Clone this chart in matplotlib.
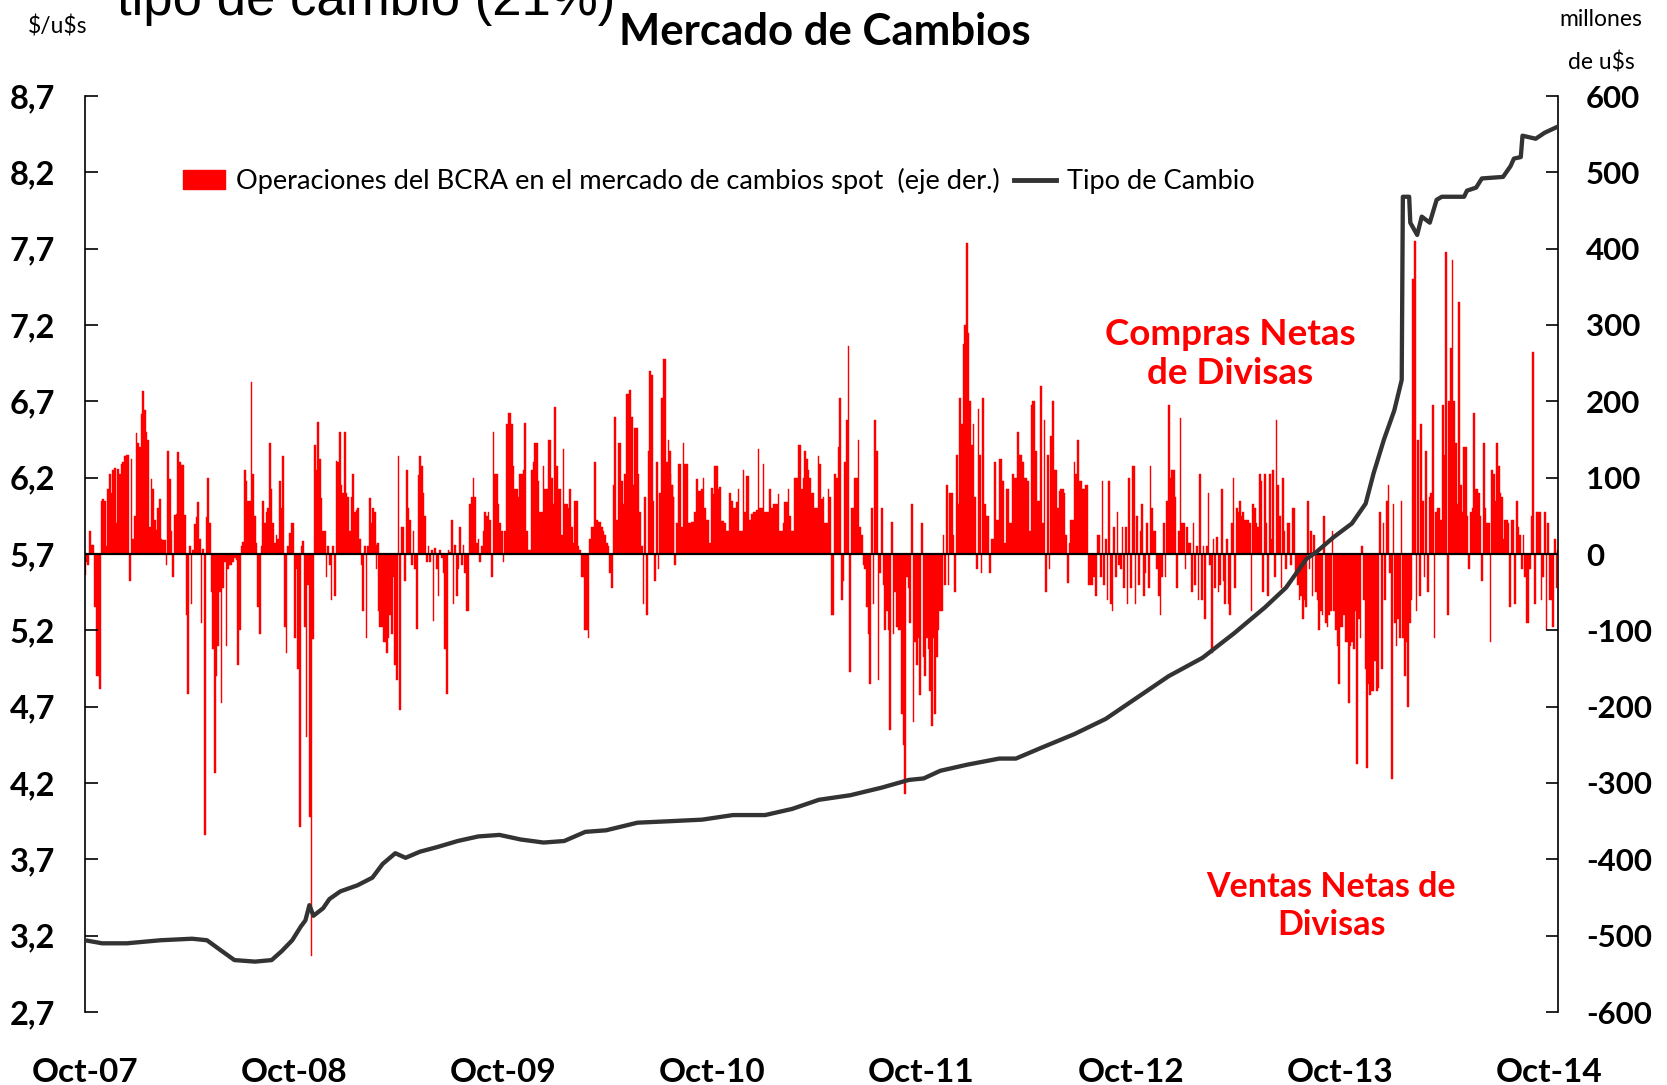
import matplotlib
matplotlib.use("Agg")
import matplotlib.pyplot as plt
from matplotlib.patches import Patch
from matplotlib.lines import Line2D
import pandas as pd
import numpy as np

# ---------------- DATA ----------------
# BCRA spot-market operations (millones de u$s) in five consecutive periods
ops_2007_09_to_2009_02 = [
    -5, -30, -30, -28, -10, -15, 30, 12, 12, -70,
    -160, -160, -177, 70, 72, 70, 10, 85, 105, 80,
    110, 113, 40, 112, 105, 118, 120, 128, 130, 130,
    -35, 124, 20, 50, 159, 145, 140, 183, 213, 188,
    160, 149, 35, 98, 85, 44, 32, 60, 72, 20,
    18, 18, -15, 135, 98, 30, -30, 51, 52, 133,
    120, 116, 116, 51, -80, -183, 10, -65, 5, 39,
    48, 68, 20, -90, 7, -368, 48, 100, 40, -50,
    -125, -287, -160, -120, -50, -195, -45, -10, -120, -20,
    -15, -15, -10, -5, -8, -145, -100, 10, 16, 110,
    95, 70, 70, 225, 105, 50, 15, -70, -105, 10,
    70, 40, 55, 60, 145, 85, 40, 15, 25, 20,
    95, 60, 128, -95, -130, 10, 28, 40, 40, -110,
    -20, -150, -357, 10, 17, -95, -240, -40, -345, -527,
    -112, 143, 110, 173, 125, 73, 30, 30, -30, 10,
    -15, -60, 10, -55, 122, 120, 160, 90, 80, 160,
    80, 75, 30, 75, 105, 55, 58, 60, 20, -15,
    -75, 10, -110, 10, 73, 40, 60, 15, -20, 15,
]
ops_2009_02_to_2010_07 = [
    55, 12, -75, -95, -95, -115, -115, -130, -110, -80,
    -105, -30, -145, -165, 128, -205, 35, 35, -35, 110,
    60, 45, -15, 30, -20, -98, 103, 128, 115, 80,
    50, -10, 10, -10, 5, -88, 8, -20, -55, 5,
    -5, -25, -125, -183, 5, 3, 44, -65, 12, -55,
    -20, 35, -15, 12, -25, -75, -75, 65, 75, 100,
    75, 15, 20, -10, 10, 30, 55, 50, 55, 45,
    -30, 160, 105, 105, 65, 40, 30, -10, 30, 170,
    185, 185, 170, 115, 85, 85, 75, 105, 105, 110,
    172, 30, 5, 5, 110, 120, 145, 145, 95, 55,
    55, 115, 85, 85, 150, 150, 100, 65, 192, 115,
    85, 85, 25, 137, 65, 65, 60, 85, 35, 15,
    70, 70, 10, 5, -30, -30, -100, -100, -110, 20,
    35, 35, 120, 45, 42, 42, 35, 30, 25, 15,
    10, -25, -45, 90, 180, 45, 145, 145, 95, 65,
    105, 210, 210, 215, 180, 90, 165, 165, 105, 55,
    10, -65, 75, -80, 135, 240, 235, 70, -35, 120,
    -20, 80, 205, 255, 255, 120, 150, 105, 90, 75,
]
ops_2010_07_to_2011_12 = [
    135, 90, 75, -15, 40, 118, 118, 35, 145, 118,
    118, 40, 40, 42, 42, 55, 98, 83, 83, 85,
    100, 60, 45, 45, 15, 87, 78, 115, 115, 85,
    88, 43, 43, 40, 30, 30, 80, 70, 60, 60,
    68, 85, 30, 30, 110, 55, 102, 102, 45, 52,
    55, 55, 58, 137, 60, 60, 118, 55, 55, 55,
    85, 60, 65, 65, 65, 78, 30, 30, 40, 68,
    68, 85, 50, 30, 30, 100, 100, 143, 143, 85,
    100, 135, 125, 110, 100, 80, 80, 60, 60, 128,
    118, 72, 75, 40, 40, 85, 75, -80, -80, 105,
    100, 140, 205, -60, -35, 120, 175, 272, -155, 60,
    60, 100, 100, 150, 35, 25, -15, -20, -70, -105,
    -170, 60, -65, 175, 135, -165, -25, 60, -40, -100,
    -75, -100, -230, 42, -105, -50, -95, -100, -100, -210,
    -250, -315, -30, -45, -90, 65, -220, -115, -145, -110,
    -185, 40, -135, -160, -110, -125, -180, -225, -110, -210,
    -135, -100, -75, -75, 25, -40, 90, -40, 80, 80,
    25, -50, 130, 65, 205, 170, 275, 300, 408, 290,
]
ops_2011_12_to_2013_05 = [
    200, 143, 170, 75, -20, 190, 130, -25, 205, 65,
    50, 50, -25, 20, 20, 120, 45, 45, 125, 125,
    95, 15, 85, 85, 40, 40, 105, 100, 100, 160,
    130, 130, 120, 100, 100, 95, 30, 195, 200, 200,
    135, 70, 70, 220, 40, 175, -50, 130, -20, 155,
    200, 110, 110, 60, 82, 85, 85, 80, 25, -38,
    15, 45, 45, 120, 105, 150, 95, 95, 85, 85,
    90, 90, -40, -40, -40, -30, -55, 25, 25, -30,
    95, -40, 20, -60, 95, -65, -75, 35, -30, 55,
    -15, -20, 35, -45, 35, -65, 100, -45, 115, 115,
    -65, 50, -40, 30, 65, -55, -25, 40, -45, 115,
    60, 30, 30, -20, -55, -80, -30, 40, -30, 70,
    195, 100, 110, 110, 75, -45, 30, 178, 40, 40,
    -20, 35, 15, 15, -50, 40, -40, 10, -60, 105,
    -60, 10, -85, 10, 80, -15, -130, 20, -45, 22,
    -50, -40, 85, -35, -65, 20, -65, -80, 40, 100,
    -45, 60, 55, 70, 50, 55, 45, 45, 45, 40,
    -75, 65, 60, 40, 35, 105, 95, -50,
]
ops_2013_05_to_2014_10 = [
    105, 40, -55, 105, 20, 110, -30, 175, 90, 50,
    -45, 100, 30, -20, 40, 40, -15, 60, 60, -25,
    -40, -60, -55, -85, -60, -70, 70, -20, 30, -55,
    25, -50, -60, -100, -75, -80, 50, -90, -95, -80,
    -75, 30, -75, -100, -120, -170, -95, -95, -80, -115,
    -115, -195, -120, -115, -125, -75, -275, -85, -110, 10,
    -60, -150, -280, -170, -185, -180, -180, -140, -180, -175,
    55, -150, 40, -60, 70, 90, -25, -295, 65, -90,
    -120, -85, -110, 70, -110, -160, -115, -200, -90, -60,
    360, 410, -75, 150, -55, 170, 70, -30, 135, -50,
    75, 80, 195, -110, 55, 60, 60, 45, 195, 130,
    395, -80, 200, 270, 385, 200, 145, 65, 330, 90,
    55, 140, 140, 50, -20, 55, 60, 185, 85, 85,
    80, 50, -35, 145, 60, 40, 40, -115, 110, 105,
    70, 145, 115, 80, 75, 20, 45, 45, 40, -70,
    45, 45, -65, 70, 35, 25, -20, 25, -30, -90,
    -90, -20, 50, 265, -65, 55, 55, 55, -60, -30,
    55, -100, 40, -60, -60, -95, 20, -45, 5,
]
ops_periods = [
    ("2007-09-22", "2009-02-24", ops_2007_09_to_2009_02),
    ("2009-02-19", "2010-07-25", ops_2009_02_to_2010_07),
    ("2010-07-19", "2011-12-22", ops_2010_07_to_2011_12),
    ("2011-12-25", "2013-05-20", ops_2011_12_to_2013_05),
    ("2013-05-23", "2014-10-17", ops_2013_05_to_2014_10),
]

# Exchange rate ($/u$s)
fx_dates = [
    "2007-10-01", "2007-10-31", "2007-12-13", "2008-02-10", "2008-04-05", "2008-05-01",
    "2008-05-23", "2008-06-18", "2008-07-24", "2008-08-22", "2008-09-09", "2008-09-27",
    "2008-10-12", "2008-10-20", "2008-10-27", "2008-11-03", "2008-11-20", "2008-12-01",
    "2008-12-20", "2009-01-19", "2009-02-14", "2009-03-04", "2009-03-26", "2009-04-13",
    "2009-05-08", "2009-06-07", "2009-07-13", "2009-08-18", "2009-09-24", "2009-10-31",
    "2009-12-10", "2010-01-15", "2010-02-21", "2010-03-29", "2010-05-23", "2010-07-20",
    "2010-09-13", "2010-11-06", "2011-01-01", "2011-02-17", "2011-04-05", "2011-05-30",
    "2011-07-24", "2011-09-09", "2011-10-05", "2011-11-03", "2011-12-20", "2012-02-14",
    "2012-03-14", "2012-04-27", "2012-06-24", "2012-08-18", "2012-10-12", "2012-12-06",
    "2013-02-03", "2013-03-30", "2013-05-23", "2013-06-29", "2013-08-04", "2013-08-20",
    "2013-09-20", "2013-10-22", "2013-11-15", "2013-11-29", "2013-12-17", "2014-01-04",
    "2014-01-17", "2014-01-19", "2014-01-30", "2014-02-01", "2014-02-13", "2014-02-21",
    "2014-03-07", "2014-03-19", "2014-03-28", "2014-05-06", "2014-05-11", "2014-05-27",
    "2014-06-06", "2014-07-13", "2014-07-26", "2014-08-01", "2014-08-13", "2014-08-16",
    "2014-09-08", "2014-09-24", "2014-10-17",
]
fx_values = [
    3.17, 3.15, 3.15, 3.17, 3.18, 3.17,
    3.11, 3.04, 3.03, 3.04, 3.10, 3.17,
    3.26, 3.30, 3.40, 3.33, 3.38, 3.44,
    3.49, 3.53, 3.58, 3.67, 3.74, 3.71,
    3.75, 3.78, 3.82, 3.85, 3.86, 3.83,
    3.81, 3.82, 3.88, 3.89, 3.94, 3.95,
    3.96, 3.99, 3.99, 4.03, 4.09, 4.12,
    4.17, 4.22, 4.23, 4.28, 4.32, 4.36,
    4.36, 4.43, 4.52, 4.62, 4.76, 4.90,
    5.02, 5.18, 5.35, 5.48, 5.67, 5.71,
    5.81, 5.90, 6.03, 6.23, 6.45, 6.64,
    6.84, 8.04, 8.04, 7.87, 7.79, 7.91,
    7.87, 8.02, 8.04, 8.04, 8.08, 8.10,
    8.16, 8.17, 8.24, 8.29, 8.30, 8.44,
    8.42, 8.46, 8.50,
]

left_ticks = [2.7, 3.2, 3.7, 4.2, 4.7, 5.2, 5.7, 6.2, 6.7, 7.2, 7.7, 8.2, 8.7]
right_ticks = [-600, -500, -400, -300, -200, -100, 0, 100, 200, 300, 400, 500, 600]
x_tick_dates = ["2007-10-01", "2008-10-01", "2009-10-01", "2010-10-01",
                "2011-10-01", "2012-10-01", "2013-10-01", "2014-10-01"]
x_tick_labels = ["Oct-07", "Oct-08", "Oct-09", "Oct-10", "Oct-11", "Oct-12", "Oct-13", "Oct-14"]

# ---------------- PLOT ----------------
FONT = ["Lato", "DejaVu Sans"]
plt.rcParams["font.family"] = FONT
RED = "#FF0000"
LINE = "#333333"

W, H = 1667, 1085
fig = plt.figure(figsize=(W / 100, H / 100), dpi=100)
left, right, top, bottom = 85, 1558, 96, 1012
ax = fig.add_axes([left / W, 1 - bottom / H, (right - left) / W, (bottom - top) / H])
ax2 = ax.twinx()

# bars (right axis)
for start, end, vals in ops_periods:
    d = pd.date_range(start, end, periods=len(vals))
    ax2.bar(d, vals, width=2.9, color=RED, linewidth=0.3, edgecolor=RED, align="center")

# exchange-rate line (left axis), drawn above bars
ax.set_zorder(ax2.get_zorder() + 1)
ax.patch.set_visible(False)
ax.plot(pd.to_datetime(fx_dates), fx_values, color=LINE, lw=3.1, solid_joinstyle="round",
        solid_capstyle="round", zorder=5)
ax.axhline(5.7, color="black", lw=1.6, zorder=4)

ax.set_ylim(2.7, 8.7)
ax2.set_ylim(-600, 600)
ax.set_xlim(pd.Timestamp("2007-10-01"), pd.Timestamp("2014-10-17"))

ax.set_yticks(left_ticks)
ax.set_yticklabels([f"{v:.1f}".replace(".", ",") for v in left_ticks],
                   fontsize=23.5, fontweight="bold")
ax2.set_yticks(right_ticks)
ax2.set_yticklabels([str(v) for v in right_ticks], fontsize=22.5, fontweight="bold")
for lab in ax2.get_yticklabels():
    lab.set_horizontalalignment("left")

ax.tick_params(axis="y", direction="in", length=9, width=1.2, pad=21.5)
ax2.tick_params(axis="y", direction="in", length=9, width=1.2, pad=20)

ax.set_xticks(pd.to_datetime(x_tick_dates))
ax.set_xticklabels(x_tick_labels, fontsize=24, fontweight="bold")
ax.tick_params(axis="x", length=0, pad=33)

for a in (ax, ax2):
    a.spines["top"].set_visible(False)
    a.spines["bottom"].set_visible(False)
ax.spines["right"].set_visible(False)
ax2.spines["left"].set_visible(False)
ax.spines["left"].set_linewidth(1.2)
ax2.spines["right"].set_linewidth(1.2)

# legend
handles = [Patch(facecolor=RED, edgecolor=RED),
           Line2D([0], [0], color=LINE, lw=3.5)]
labels = ["Operaciones del BCRA en el mercado de cambios spot  (eje der.)", "Tipo de Cambio"]
fig.legend(handles, labels, loc="center left", bbox_to_anchor=(183 / W, 1 - 181 / H),
           ncol=2, frameon=False, fontsize=19.6, handlelength=1.55, handletextpad=0.38,
           columnspacing=0.55, borderpad=0, borderaxespad=0)

# titles and annotations
def ft(x, y):
    return x / W, 1 - y / H

fig.text(*ft(117, 15), "tipo de cambio (21%)", fontsize=38, family=["Liberation Sans", "DejaVu Sans"],
         ha="left", va="baseline")
fig.text(*ft(825, 45), "Mercado de Cambios", fontsize=31.5, fontweight="bold", ha="center",
         va="baseline")
fig.text(*ft(58, 27), "$/u$s", fontsize=16.5, ha="center", va="center", parse_math=False)
fig.text(*ft(1601, 19), "millones", fontsize=16.5, ha="center", va="center", parse_math=False)
fig.text(*ft(1601, 62), "de u$s", fontsize=16.5, ha="center", va="center", parse_math=False)

fig.text(*ft(1230, 354), "Compras Netas\nde Divisas", fontsize=26.5, fontweight="bold", color=RED,
         ha="center", va="center", linespacing=1.2)
fig.text(*ft(1331, 906), "Ventas Netas de\nDivisas", fontsize=24.5, fontweight="bold", color=RED,
         ha="center", va="center", linespacing=1.25)

fig.savefig("out.png", dpi=100)
